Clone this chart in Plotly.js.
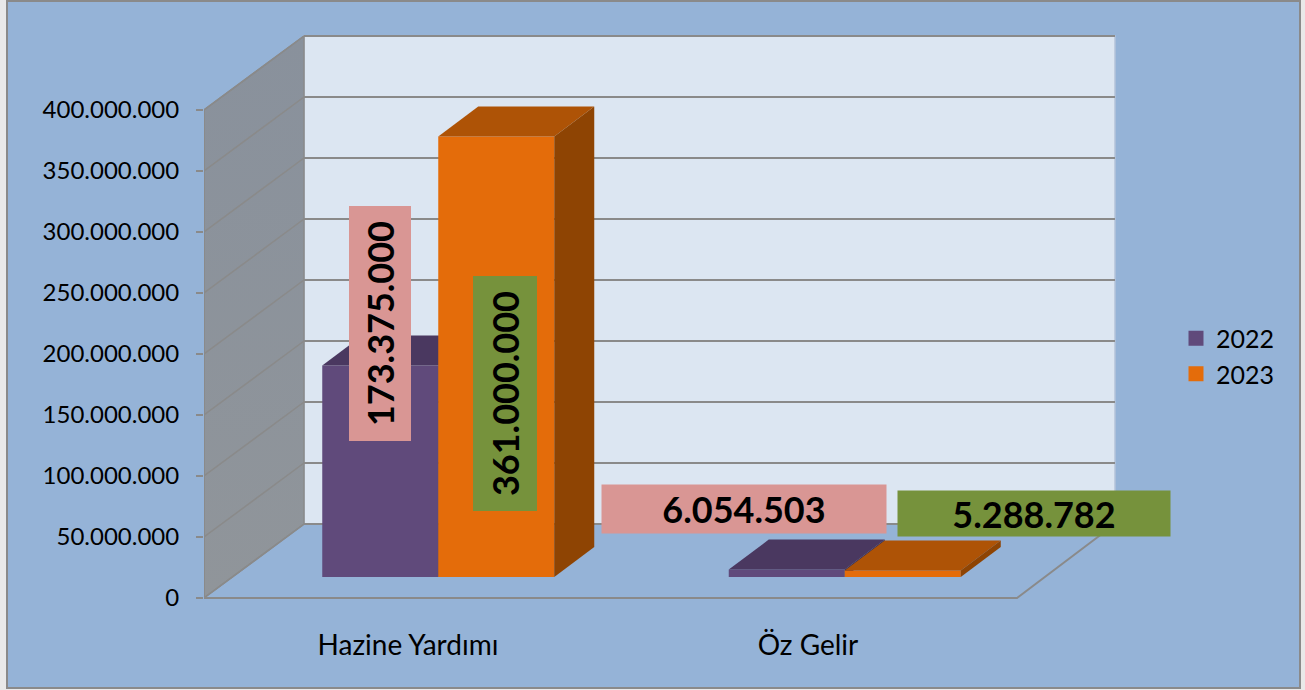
<!DOCTYPE html>
<html><head><meta charset="utf-8">
<script src="https://cdn.plot.ly/plotly-3.0.1.min.js"></script>
<style>
html,body{margin:0;padding:0;background:#e9e9e9;overflow:hidden;width:1305px;height:690px}
#frame{position:absolute;left:6px;top:0;width:1295px;height:689px;box-sizing:border-box;background:#95b3d7;border:2px solid #8a8a8a}
#chart{position:absolute;left:0;top:0;width:1305px;height:690px}
</style></head><body>
<div id="frame"></div><div id="chart"></div>
<script>
const categories = ["Hazine Yardımı", "Öz Gelir"];
const values2022 = [173375000, 6054503];
const values2023 = [361000000, 5288782];
const tickValues = [0, 50000000, 100000000, 150000000, 200000000, 250000000, 300000000, 350000000, 400000000];

// page-pixel calibration of the axes
const PLOT = {l:204, r:1175, t:10, b:626};
const pxPerCat = 406.5, pxPerVal = 1.22e-6;
const X = p => -0.5 + (p - 204) / pxPerCat;
const Y = p => (598 - p) / pxPerVal;
const dW = 100 / pxPerCat, dV = 74 / pxPerVal;      // wall depth
const bW = 116 / pxPerCat;                          // bar width
const bDx = 40 / pxPerCat, bDy = 30 / pxPerVal;     // bar depth
const shift = 31 / pxPerCat, base = 21 / pxPerVal;  // bars stand inside the floor
const catX = categories.map((c, i) => i);
const fmt = v => String(v).replace(/\B(?=(\d{3})+$)/g, ".");

const grey = "#8a8a8a";
const skip = {hoverinfo:"skip", showlegend:false};
const traces = [];
const line = (xs, ys, w, c) => traces.push({type:"scatter", mode:"lines", x:xs, y:ys,
  line:{color:c || grey, width:w || 2}, zorder:-1, ...skip});

// back wall
traces.push({type:"scatter", mode:"lines", x:[X(304),X(1115),X(1115),X(304),X(304)],
  y:[0,0,400e6,400e6,0].map(v=>v+dV), fill:"toself", fillcolor:"#dce6f2",
  line:{color:"#b4c4da", width:1.5}, zorder:-2, ...skip});
// side wall
traces.push({type:"scatter", mode:"lines", x:[-0.5,-0.5+dW,-0.5+dW,-0.5,-0.5],
  y:[0,dV,400e6+dV,400e6,0], fill:"toself",
  fillgradient:{type:"vertical", colorscale:[[0,"#90959a"],[1,"#89919c"]]},
  line:{color:grey, width:1.5}, zorder:-2, ...skip});
// gridlines on both walls
tickValues.forEach(v=>{
  line([X(304),X(1115)], [v+dV,v+dV], 2);
  line([-0.5,-0.5+dW], [v,v+dV], 1.5);
});
// floor outline
line([-0.5,1.5,X(1115)], [0,0,dV], 2);
line([-0.5,-0.5], [0,400e6], 2);

function addSeries(name, vals, sign, front, top, side, z){
  const off = sign < 0 ? -bW : 0;
  traces.push({type:"bar", name, x:catX.map(c=>c+shift), y:vals, base:vals.map(()=>base),
    width:bW, offset:off, marker:{color:front, line:{width:0}}, zorder:z, ...skip});
  vals.forEach((v,i)=>{
    const l = catX[i]+shift+off, r = l+bW, t = base+v;
    traces.push({type:"scatter", mode:"lines", x:[l,l+bDx,r+bDx,r,l], y:[t,t+bDy,t+bDy,t,t],
      fill:"toself", fillcolor:top, line:{width:0,color:top}, zorder:z, ...skip});
    traces.push({type:"scatter", mode:"lines", x:[r,r+bDx,r+bDx,r,r], y:[t,t+bDy,base+bDy,base,t],
      fill:"toself", fillcolor:side, line:{width:0,color:side}, zorder:z, ...skip});
  });
  // legend entry
  traces.push({type:"bar", name, x:[0], y:[null], marker:{color:front, line:{color:front,width:3}},
    hoverinfo:"skip", showlegend:true});
}
addSeries("2022", values2022, -1, "#604a7b", "#4a3860", "#3e2f50", 1);
addSeries("2023", values2023, 1, "#e46c0a", "#ae5306", "#8e4403", 2);

const label = (px,py,v,bg,w,h,rot) => ({xref:"x", yref:"y", x:X(px), y:Y(py), text:"<b>"+fmt(v)+"</b>",
  showarrow:false, bgcolor:bg, textangle:rot, width:w, height:h, align:"center", valign:"middle", borderpad:0,
  font:{family:"Lato", size:36, color:"#000"}});
const pink = "#d99694", green = "#76923c";

Plotly.newPlot("chart", traces, {
  width:1305, height:690, autosize:false,
  paper_bgcolor:"rgba(0,0,0,0)", plot_bgcolor:"rgba(0,0,0,0)",
  margin:{l:PLOT.l, r:1305-PLOT.r, t:PLOT.t, b:690-PLOT.b, pad:0},
  separators:",.", barmode:"overlay",
  font:{family:"Lato", color:"#000"},
  xaxis:{range:[X(PLOT.l), X(PLOT.r)], tickmode:"array", tickvals:[X(408), X(808)], ticktext:categories,
    showgrid:false, zeroline:false, showline:false, ticks:"", tickfont:{size:28, family:"Lato"}, fixedrange:true},
  yaxis:{range:[Y(PLOT.b), Y(PLOT.t)], tickmode:"array", tickvals:tickValues, tickformat:",d",
    showgrid:false, zeroline:false, showline:false, ticks:"outside", ticklen:7, tickwidth:2, tickcolor:grey,
    ticklabelstandoff:12, tickfont:{size:24, family:"Lato"}, fixedrange:true},
  legend:{x:(1176-PLOT.l)/(PLOT.r-PLOT.l), xanchor:"left", y:(PLOT.b-356)/(PLOT.b-PLOT.t), yanchor:"middle",
    bgcolor:"rgba(0,0,0,0)", font:{size:25, family:"Lato"}, itemclick:false, itemdoubleclick:false, traceorder:"normal"},
  annotations:[
    label(379.5,324,values2022[0],pink,234,61,-90),
    label(504.5,394,values2023[0],green,234,63,-90),
    label(744,509,values2022[1],pink,284,48,0),
    label(1034,513.5,values2023[1],green,272,45,0)
  ]
}, {displayModeBar:false, staticPlot:true});
</script></body></html>
